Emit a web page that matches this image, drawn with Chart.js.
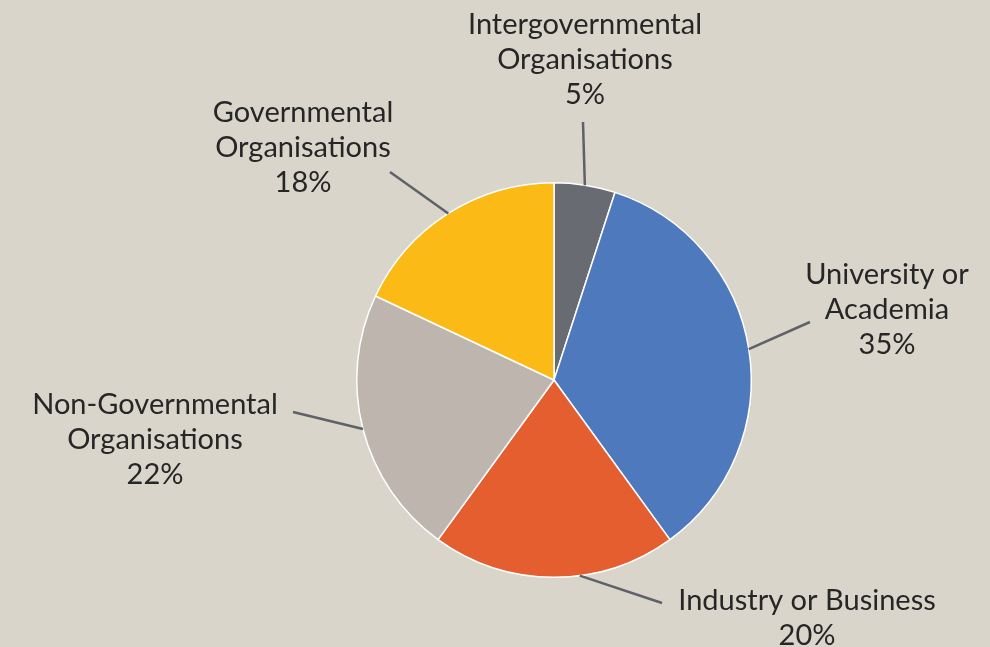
<!DOCTYPE html>
<html>
<head>
<meta charset="utf-8">
<script src="https://cdn.jsdelivr.net/npm/chart.js@4"></script>
<style>
  html, body { margin: 0; padding: 0; background: #d9d5cb; }
  #wrap { width: 990px; height: 647px; }
</style>
</head>
<body>
<div id="wrap"><canvas id="pie-chart" width="990" height="647"></canvas></div>
<script>
// Data
const categories = [
    ['Intergovernmental', 'Organisations'],
    ['University or', 'Academia'],
    ['Industry or Business'],
    ['Non-Governmental', 'Organisations'],
    ['Governmental', 'Organisations']
];
const shares = [5, 35, 20, 22, 18];
const sliceColors = ['#696b73', '#4f79bd', '#e55e30', '#bdb5ae', '#fbba16'];

// Label placement (style only): leader line end, label centre, first line y, angle tweak
const labelStyle = [
    { end: [583, 122], x: 585, y: 25, tweak: 0 },
    { end: [810, 322], x: 887, y: 275, tweak: 0 },
    { end: [662, 603], x: 807, y: 601, tweak: -7.5 },
    { end: [293, 412], x: 155, y: 405, tweak: 0 },
    { end: [390, 172], x: 303, y: 113, tweak: 0 }
];

const leaderLabels = {
    id: 'leaderLabels',
    afterDatasetsDraw(chart) {
        const ctx = chart.ctx;
        const meta = chart.getDatasetMeta(0);
        ctx.save();
        meta.data.forEach((arc, i) => {
            const p = arc.getProps(['x', 'y', 'startAngle', 'endAngle', 'outerRadius'], true);
            const mid = (p.startAngle + p.endAngle) / 2 + labelStyle[i].tweak * Math.PI / 180;
            const sx = p.x + Math.cos(mid) * p.outerRadius;
            const sy = p.y + Math.sin(mid) * p.outerRadius;
            ctx.strokeStyle = '#5f6169';
            ctx.lineWidth = 2.5;
            ctx.beginPath();
            ctx.moveTo(sx, sy);
            ctx.lineTo(labelStyle[i].end[0], labelStyle[i].end[1]);
            ctx.stroke();

            const lines = categories[i].concat([shares[i] + '%']);
            ctx.fillStyle = '#262626';
            ctx.font = '29px Lato';
            ctx.textAlign = 'center';
            ctx.textBaseline = 'middle';
            lines.forEach((t, k) => {
                ctx.fillText(t, labelStyle[i].x, labelStyle[i].y + k * 35);
            });
        });
        ctx.restore();
    }
};

const pieCtx = document.getElementById('pie-chart').getContext('2d');
const pieChart = new Chart(pieCtx, {
    type: 'pie',
    data: {
        labels: categories.map(c => c.join(' ')),
        datasets: [{
            data: shares,
            backgroundColor: sliceColors,
            borderColor: '#ffffff',
            borderWidth: 1.5
        }]
    },
    options: {
        responsive: false,
        animation: false,
        layout: { padding: { left: 356, right: 238, top: 182, bottom: 69 } },
        plugins: {
            legend: { display: false },
            tooltip: { enabled: false }
        }
    },
    plugins: [leaderLabels]
});
</script>
</body>
</html>
